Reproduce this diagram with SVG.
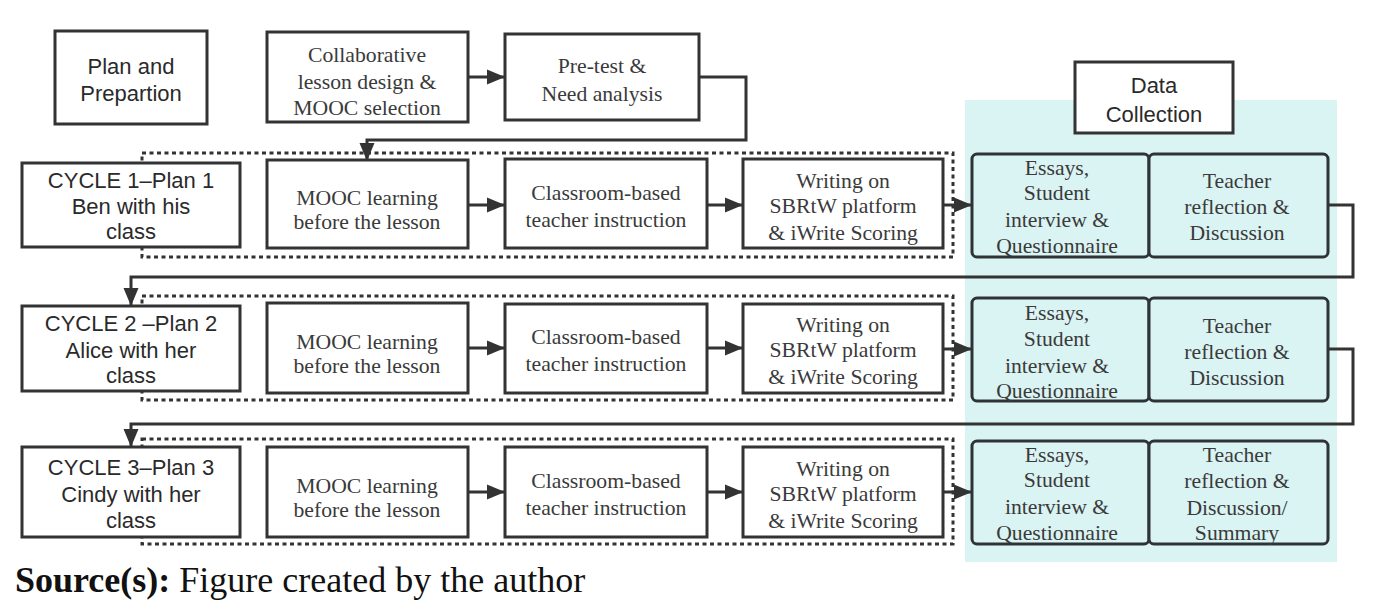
<svg xmlns="http://www.w3.org/2000/svg" width="1373" height="609" viewBox="0 0 1373 609">
<style>
.box{fill:#fff;stroke:#333;stroke-width:3}
.dc{fill:#daf3f3;stroke:#2e3436;stroke-width:3}
.dot{fill:none;stroke:#333;stroke-width:3;stroke-dasharray:4 3.5}
.con{fill:none;stroke:#333;stroke-width:3}
.s{font-family:"Liberation Sans",Arial,sans-serif;font-size:22px;fill:#2a2a2a;text-anchor:middle}
.t{font-family:"Liberation Serif","Times New Roman",serif;font-size:21.7px;fill:#3a3a3a;text-anchor:middle}
.cap{font-family:"Liberation Serif","Times New Roman",serif;font-size:36px;fill:#111}
</style>
<defs>
<marker id="ah" markerUnits="userSpaceOnUse" markerWidth="18" markerHeight="16" viewBox="0 0 18 16" refX="17" refY="8" orient="auto">
<path d="M0,0.5 L18,8 L0,15.5 Z" fill="#333"/>
</marker>
</defs>
<rect x="965" y="100" width="372" height="462" fill="#daf3f3"/>
<g id="dotted">
<rect class="dot" x="142" y="153" width="811" height="104"/>
<rect class="dot" x="142" y="296" width="811" height="104"/>
<rect class="dot" x="142" y="439" width="811" height="105"/>
</g>
<g id="connectors">
<path class="con" d="M468,77 H504" marker-end="url(#ah)"/>
<path class="con" d="M699,77 H746 V140 H367 V160" marker-end="url(#ah)"/>
<path class="con" d="M468,205 H504" marker-end="url(#ah)"/>
<path class="con" d="M707,205 H742" marker-end="url(#ah)"/>
<path class="con" d="M943,205 H971" marker-end="url(#ah)"/>
<path class="con" d="M1328,205 H1353 V277 H131 V305" marker-end="url(#ah)"/>
<path class="con" d="M468,348 H504" marker-end="url(#ah)"/>
<path class="con" d="M707,348 H742" marker-end="url(#ah)"/>
<path class="con" d="M943,349 H971" marker-end="url(#ah)"/>
<path class="con" d="M1328,349 H1353 V424 H131 V446" marker-end="url(#ah)"/>
<path class="con" d="M468,492 H504" marker-end="url(#ah)"/>
<path class="con" d="M707,492 H742" marker-end="url(#ah)"/>
<path class="con" d="M943,492 H971" marker-end="url(#ah)"/>
</g>
<g id="plan"><rect class="box" x="55" y="31" width="152" height="93"/>
<text class="s" x="131" y="74">Plan and</text><text class="s" x="131" y="101">Prepartion</text></g>
<g id="collab"><rect class="box" x="267" y="32" width="201" height="90"/>
<text class="t" x="367" y="62">Collaborative</text><text class="t" x="367" y="89">lesson design &amp;</text><text class="t" x="367" y="115">MOOC selection</text></g>
<g id="pretest"><rect class="box" x="505" y="34" width="194" height="86"/>
<text class="t" x="602" y="73">Pre-test &amp;</text><text class="t" x="602" y="101">Need analysis</text></g>
<g id="datacollection"><rect class="box" x="1075" y="62" width="158" height="71"/>
<text class="s" x="1154" y="93">Data</text><text class="s" x="1154" y="122">Collection</text></g>

<g id="cycle1"><rect class="box" x="22" y="163" width="218" height="84"/>
<text class="s" x="131" y="188">CYCLE 1–Plan 1</text><text class="s" x="131" y="214">Ben with his</text><text class="s" x="131" y="239">class</text></g>
<g id="mooc1"><rect class="box" x="267" y="160" width="201" height="88"/>
<text class="t" x="367" y="205">MOOC learning</text><text class="t" x="367" y="229">before the lesson</text></g>
<g id="class1"><rect class="box" x="505" y="159" width="202" height="89"/>
<text class="t" x="606" y="200">Classroom-based</text><text class="t" x="606" y="227">teacher instruction</text></g>
<g id="write1"><rect class="box" x="743" y="159" width="200" height="89"/>
<text class="t" x="843" y="188">Writing on</text><text class="t" x="843" y="213">SBRtW platform</text><text class="t" x="843" y="240">&amp; iWrite Scoring</text></g>
<g id="essays1"><rect class="dc" x="972" y="154" width="177" height="103" rx="5"/>
<text class="t" x="1057" y="175">Essays,</text><text class="t" x="1057" y="200">Student</text><text class="t" x="1057" y="227">interview &amp;</text><text class="t" x="1057" y="253">Questionnaire</text></g>
<g id="teacher1"><rect class="dc" x="1149" y="154" width="179" height="103" rx="5"/>
<text class="t" x="1237" y="188">Teacher</text><text class="t" x="1237" y="214">reflection &amp;</text><text class="t" x="1237" y="240">Discussion</text></g>

<g id="cycle2"><rect class="box" x="22" y="306" width="218" height="85"/>
<text class="s" x="131" y="331">CYCLE 2 –Plan 2</text><text class="s" x="131" y="358">Alice with her</text><text class="s" x="131" y="383">class</text></g>
<g id="mooc2"><rect class="box" x="267" y="303" width="201" height="90"/>
<text class="t" x="367" y="349">MOOC learning</text><text class="t" x="367" y="373">before the lesson</text></g>
<g id="class2"><rect class="box" x="505" y="304" width="202" height="89"/>
<text class="t" x="606" y="344">Classroom-based</text><text class="t" x="606" y="371">teacher instruction</text></g>
<g id="write2"><rect class="box" x="743" y="304" width="200" height="89"/>
<text class="t" x="843" y="332">Writing on</text><text class="t" x="843" y="357">SBRtW platform</text><text class="t" x="843" y="384">&amp; iWrite Scoring</text></g>
<g id="essays2"><rect class="dc" x="972" y="298" width="177" height="103" rx="5"/>
<text class="t" x="1057" y="320">Essays,</text><text class="t" x="1057" y="346">Student</text><text class="t" x="1057" y="373">interview &amp;</text><text class="t" x="1057" y="398">Questionnaire</text></g>
<g id="teacher2"><rect class="dc" x="1149" y="298" width="179" height="103" rx="5"/>
<text class="t" x="1237" y="333">Teacher</text><text class="t" x="1237" y="359">reflection &amp;</text><text class="t" x="1237" y="385">Discussion</text></g>

<g id="cycle3"><rect class="box" x="22" y="447" width="218" height="90"/>
<text class="s" x="131" y="475">CYCLE 3–Plan 3</text><text class="s" x="131" y="502">Cindy with her</text><text class="s" x="131" y="528">class</text></g>
<g id="mooc3"><rect class="box" x="267" y="447" width="201" height="90"/>
<text class="t" x="367" y="493">MOOC learning</text><text class="t" x="367" y="517">before the lesson</text></g>
<g id="class3"><rect class="box" x="505" y="447" width="202" height="90"/>
<text class="t" x="606" y="488">Classroom-based</text><text class="t" x="606" y="515">teacher instruction</text></g>
<g id="write3"><rect class="box" x="743" y="447" width="200" height="90"/>
<text class="t" x="843" y="476">Writing on</text><text class="t" x="843" y="501">SBRtW platform</text><text class="t" x="843" y="528">&amp; iWrite Scoring</text></g>
<g id="essays3"><rect class="dc" x="972" y="441" width="177" height="103" rx="5"/>
<text class="t" x="1057" y="462">Essays,</text><text class="t" x="1057" y="487">Student</text><text class="t" x="1057" y="514">interview &amp;</text><text class="t" x="1057" y="540">Questionnaire</text></g>
<g id="teacher3"><rect class="dc" x="1149" y="441" width="179" height="103" rx="5"/>
<text class="t" x="1237" y="462">Teacher</text><text class="t" x="1237" y="488">reflection &amp;</text><text class="t" x="1237" y="515">Discussion/</text><text class="t" x="1237" y="540">Summary</text></g>

<text class="cap" x="15" y="592"><tspan font-weight="bold">Source(s):</tspan> Figure created by the author</text>
</svg>
